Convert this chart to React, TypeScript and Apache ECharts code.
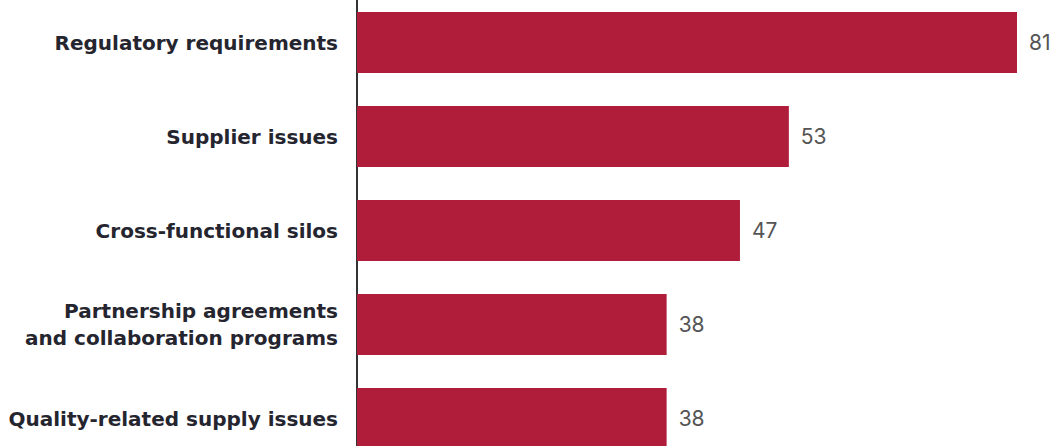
import React, { useEffect, useRef } from "react";
import * as echarts from "echarts";

const categories = [
  "Regulatory requirements",
  "Supplier issues",
  "Cross-functional silos",
  "Partnership agreements\nand collaboration programs",
  "Quality-related supply issues",
];
const values = [81, 53, 47, 38, 38];

export default function App() {
  const ref = useRef<HTMLDivElement>(null);
  useEffect(() => {
    document.body.style.margin = "0";
    const chart = echarts.init(ref.current!, null, { renderer: "svg" });
    chart.setOption({
      animation: false,
      grid: { left: 357, width: 660, top: 0.5, height: 470, containLabel: false },
      xAxis: { type: "value", min: 0, max: 81, show: false },
      yAxis: {
        type: "category",
        data: categories,
        inverse: true,
        offset: 2,
        axisLine: { show: true, lineStyle: { color: "#333", width: 2 } },
        axisTick: { show: false },
        splitLine: { show: false },
        axisLabel: {
          margin: 17,
          fontFamily: "DejaVu Sans",
          fontWeight: 700,
          fontSize: 20,
          color: "#25252f",
          lineHeight: 27,
          align: "right",
        },
      },
      series: [
        {
          type: "bar",
          data: values,
          barWidth: 61,
          itemStyle: { color: "#AF1D3B" },
          label: {
            show: true,
            position: "right",
            distance: 12,
            fontFamily: "Inter",
            fontSize: 21,
            color: "#555",
          },
        },
      ],
    });
    return () => chart.dispose();
  }, []);
  return (
    <div
      ref={ref}
      style={{ position: "absolute", left: 0, top: -5, width: 1056, height: 480 }}
    />
  );
}
